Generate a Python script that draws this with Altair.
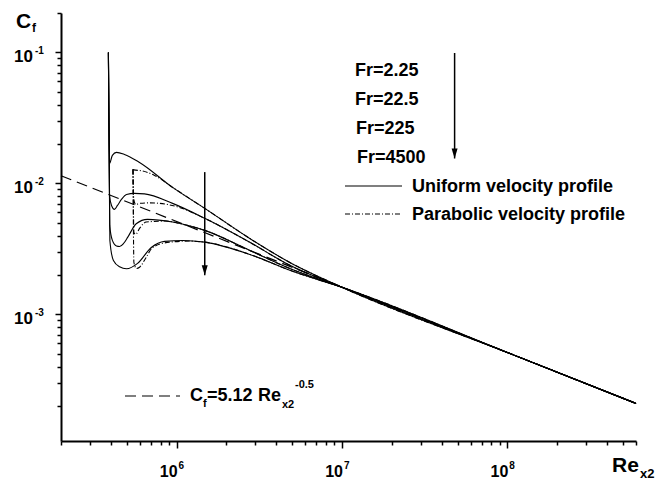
import altair as alt
import pandas as pd

# ---------------- data ----------------
# Uniform velocity profile (solid), Fr = 2.25, 22.5, 225, 4500
re_u1 = [3.87e5, 3.93e5, 4.09e5, 4.33e5, 4.84e5, 5.97e5, 9.46e5, 1.48e6, 2.77e6, 4.84e6, 1.0e7, 1.0e8, 6.0e8]
cf_u1 = [0.1, 0.01422, 0.01637, 0.01725, 0.01664, 0.01445, 0.00932, 0.00645, 0.00380, 0.00249, 0.00161, 5.12e-4, 2.09e-4]

re_u2 = [3.87e5, 3.93e5, 4.04e5, 4.21e5, 4.39e5, 4.64e5, 4.98e5, 5.56e5, 6.40e5, 9.46e5, 1.48e6, 2.77e6, 4.84e6, 1.0e7, 1.0e8, 6.0e8]
cf_u2 = [0.1, 0.00810, 0.00679, 0.00634, 0.00679, 0.00755, 0.00824, 0.00839, 0.00832, 0.00704, 0.00541, 0.00355, 0.00237, 0.00161, 5.12e-4, 2.09e-4]

re_u3 = [3.87e5, 3.94e5, 4.09e5, 4.33e5, 4.52e5, 4.78e5, 5.07e5, 5.70e5, 6.67e5, 9.46e5, 1.48e6, 2.77e6, 4.84e6, 1.0e7, 1.0e8, 6.0e8]
cf_u3 = [0.1, 0.00478, 0.00367, 0.00333, 0.00330, 0.00348, 0.00389, 0.00492, 0.00531, 0.00507, 0.00438, 0.00308, 0.00224, 0.00161, 5.12e-4, 2.09e-4]

re_u4 = [3.87e5, 3.95e5, 4.15e5, 4.52e5, 4.98e5, 5.81e5, 7.03e5, 8.46e5, 1.09e6, 1.48e6, 2.77e6, 4.84e6, 1.0e7, 1.0e8, 6.0e8]
cf_u4 = [0.1, 0.00367, 0.00258, 0.00231, 0.00223, 0.00245, 0.00324, 0.00361, 0.00367, 0.00356, 0.00287, 0.00217, 0.00161, 5.12e-4, 2.09e-4]

# Parabolic velocity profile (dash-dot)
re_p1 = [5.45e5, 5.52e5, 6.22e5, 7.36e5, 9.46e5, 1.48e6, 2.77e6, 4.84e6, 1.0e7, 1.0e8, 6.0e8]
cf_p1 = [0.0128, 0.01268, 0.01245, 0.01151, 0.00932, 0.00645, 0.00380, 0.00249, 0.00161, 5.12e-4, 2.09e-4]

re_p2 = [5.45e5, 5.51e5, 5.65e5, 5.97e5, 6.67e5, 7.57e5, 1.04e6, 1.48e6, 2.77e6, 4.84e6, 1.0e7, 1.0e8, 6.0e8]
cf_p2 = [0.0128, 0.00755, 0.00691, 0.00704, 0.00710, 0.00707, 0.00656, 0.00541, 0.00355, 0.00237, 0.00161, 5.12e-4, 2.09e-4]

re_p3 = [5.45e5, 5.52e5, 5.65e5, 5.97e5, 6.55e5, 8.66e5, 1.09e6, 1.48e6, 2.77e6, 4.84e6, 1.0e7, 1.0e8, 6.0e8]
cf_p3 = [0.0128, 0.00423, 0.00408, 0.00453, 0.00507, 0.00516, 0.00487, 0.00438, 0.00308, 0.00224, 0.00161, 5.12e-4, 2.09e-4]

re_p4 = [5.45e5, 5.52e5, 5.73e5, 5.97e5, 6.49e5, 7.16e5, 9.07e5, 1.20e6, 1.48e6, 2.77e6, 4.84e6, 1.0e7, 1.0e8, 6.0e8]
cf_p4 = [0.0128, 0.00249, 0.00224, 0.00229, 0.00267, 0.00324, 0.00356, 0.00363, 0.00356, 0.00287, 0.00217, 0.00161, 5.12e-4, 2.09e-4]

re_asym = [2.0e5, 6.0e8]
cf_asym = [0.01145, 2.09e-4]

# Arrows (Fr increasing direction)
arrow_x = [1.48e6, 4.8e7]
arrow_top = [0.0122, 0.099]
arrow_tip = [0.00199, 0.0155]

# Tick values / labels
x_ticks = [m * 10.0 ** k for k in (5, 6, 7) for m in range(1, 10) if m * 10.0 ** k >= 2e5] + [1e8, 2e8, 3e8, 4e8, 5e8, 6e8]
y_ticks = [m * 10.0 ** k for k in (-4, -3, -2) for m in range(1, 10) if m * 10.0 ** k >= 2e-4] + [1e-1, 2e-1]
x_major = [1e6, 1e7, 1e8]
x_exp = ["6", "7", "8"]
y_major = [1e-1, 1e-2, 1e-3]
y_exp = ["-1", "-2", "-3"]

fr_labels = ["Fr=2.25", "Fr=22.5", "Fr=225", "Fr=4500"]

# ---------------- build tables ----------------
def series_frame(pairs, names):
    rows = []
    for (rx, cy), nm in zip(pairs, names):
        for i, (a, b) in enumerate(zip(rx, cy)):
            rows.append({"re": a, "cf": b, "series": nm, "i": i})
    return pd.DataFrame(rows)

df_u = series_frame([(re_u1, cf_u1), (re_u2, cf_u2), (re_u3, cf_u3), (re_u4, cf_u4)], fr_labels)
df_p = series_frame([(re_p1, cf_p1), (re_p2, cf_p2), (re_p3, cf_p3), (re_p4, cf_p4)], fr_labels)
df_a = pd.DataFrame({"re": re_asym, "cf": cf_asym})
df_arrow = pd.DataFrame({"re": arrow_x, "cf": arrow_top, "cf2": arrow_tip})
df_xl = pd.DataFrame({"re": x_major, "e": x_exp})
df_yl = pd.DataFrame({"cf": y_major, "e": y_exp})
one = pd.DataFrame({"k": [0]})

FONT = "Liberation Sans"
W, H = 575, 428

major_test = "abs(log(datum.value)/LN10 - round(log(datum.value)/LN10)) < 1e-6"
xscale = alt.Scale(type="log", domain=[2e5, 6e8], nice=False)
yscale = alt.Scale(type="log", domain=[1.08e-4, 0.2], nice=False)
xaxis = alt.Axis(values=x_ticks, labels=False, title="", grid=False, orient="bottom",
                 domainColor="black", domainWidth=2, tickColor="black", tickWidth=1.5,
                 tickSize={"condition": {"test": major_test, "value": 7}, "value": 4})
yaxis = alt.Axis(values=y_ticks, labels=False, title="", grid=False, orient="left",
                 domainColor="black", domainWidth=2, tickColor="black", tickWidth=1.5,
                 tickSize={"condition": {"test": major_test, "value": 6}, "value": 4})

X = alt.X("re:Q", scale=xscale, axis=xaxis)
Y = alt.Y("cf:Q", scale=yscale, axis=yaxis)

asym = alt.Chart(df_a).mark_line(color="black", strokeWidth=1.2, strokeDash=[11, 6]).encode(x=X, y=Y)
solid = alt.Chart(df_u).mark_line(color="black", strokeWidth=1.1, interpolate="monotone").encode(
    x=X, y=Y, detail="series:N", order="i:Q")
dashdot = alt.Chart(df_p).mark_line(color="black", strokeWidth=1.1, interpolate="monotone",
                                    strokeDash=[5, 2, 1, 2]).encode(
    x=X, y=Y, detail="series:N", order="i:Q")

arrow_line = alt.Chart(df_arrow).mark_rule(color="black", strokeWidth=1.5).encode(
    x=X, y=Y, y2="cf2:Q")
arrow_head = alt.Chart(df_arrow).mark_point(shape="M-0.6,-2L0.6,-2L0,0Z", filled=True, size=100,
                                            color="black", opacity=1, strokeWidth=0).encode(
    x=X, y=alt.Y("cf2:Q", scale=yscale, axis=yaxis))

# tick labels 10^k
xl_base = alt.Chart(df_xl).mark_text(font=FONT, fontWeight="bold", fontSize=16, align="right",
                                     baseline="alphabetic", dx=1, color="black").encode(
    x=X, y=alt.value(464), text=alt.value("10"))
xl_exp = alt.Chart(df_xl).mark_text(font=FONT, fontWeight="bold", fontSize=10, align="left",
                                    baseline="alphabetic", dx=2, color="black").encode(
    x=X, y=alt.value(456), text="e:N")
yl_base = alt.Chart(df_yl).mark_text(font=FONT, fontWeight="bold", fontSize=17, align="right",
                                     baseline="alphabetic", dy=10, color="black").encode(
    x=alt.value(-28), y=Y, text=alt.value("10"))
yl_exp = alt.Chart(df_yl).mark_text(font=FONT, fontWeight="bold", fontSize=10, align="left",
                                    baseline="alphabetic", dy=2, color="black").encode(
    x=alt.value(-26), y=Y, text="e:N")


def txt(s, x, y, size, align="left"):
    return alt.Chart(one).mark_text(font=FONT, fontWeight="bold", fontSize=size, align=align,
                                    baseline="alphabetic", color="black").encode(
        x=alt.value(x), y=alt.value(y), text=alt.value(s))


def sample(x1, x2, y, dash):
    return alt.Chart(one).mark_rule(color="black", strokeWidth=1.1, strokeDash=dash).encode(
        x=alt.value(x1), x2=alt.value(x2), y=alt.value(y))


texts = [
    # axis titles
    txt("C", -45, 15, 21), txt("f", -29, 19, 12),
    txt("Re", 551, 459, 21), txt("x2", 579, 465, 13),
    # Fr labels
    txt(fr_labels[0], 294, 63, 18), txt(fr_labels[1], 294, 92, 18),
    txt(fr_labels[2], 295, 121, 18), txt(fr_labels[3], 296, 150, 18),
    # legend
    txt("Uniform velocity profile", 351, 179, 18),
    txt("Parabolic velocity profile", 351, 207, 18),
    # formula
    txt("C", 129, 388, 18), txt("f", 142, 394, 11), txt("=5.12", 146, 388, 18),
    txt("Re", 197, 388, 18), txt("x2", 221, 395, 11), txt("-0.5", 234, 375, 11),
]
samples = [
    sample(284, 341, 173, [1, 0]),
    sample(284, 341, 201, [5, 2, 1, 2]),
    sample(64, 119, 383, [11, 6]),
]

chart = alt.layer(
    asym, solid, dashdot, arrow_line, arrow_head,
    xl_base, xl_exp, yl_base, yl_exp, *texts, *samples
).properties(
    width=W, height=H,
    padding={"left": 53, "top": 5, "right": 22, "bottom": 42},
    autosize=alt.AutoSizeParams(type="none"),
).configure_view(stroke="transparent")

chart.save("out.html", embed_options={"renderer": "svg", "actions": False})
